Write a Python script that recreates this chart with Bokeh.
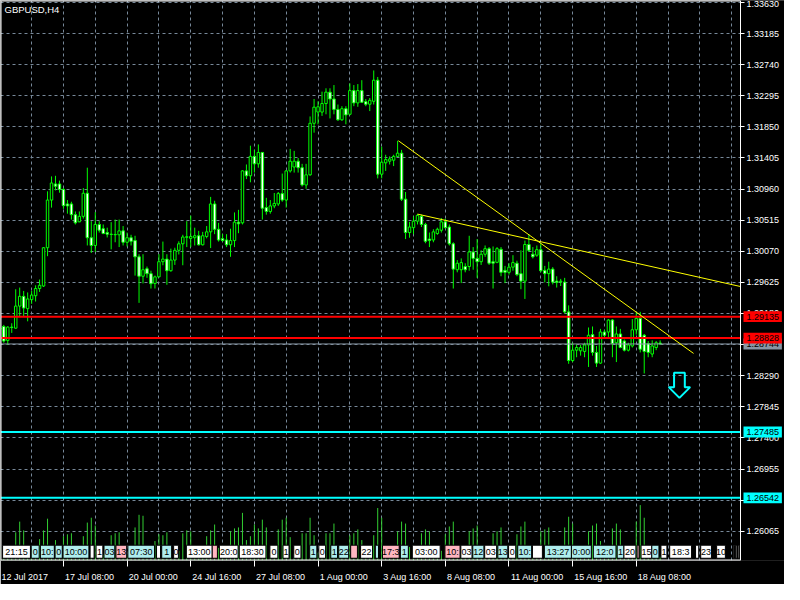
from bokeh.plotting import figure
from bokeh.models import (Range1d, FixedTicker, Label, ColumnDataSource,
                          PrintfTickFormatter, LinearAxis)
from bokeh.embed import file_html
from bokeh.resources import INLINE

# ---------------- data (GBPUSD, H4) ----------------
open_ = [1.28957,1.28994,1.28795,1.28985,1.28970,1.29286,1.29425,1.29249,1.29378,1.29434,
         1.29537,1.29573,1.30121,1.30803,1.31033,1.31033,1.30955,1.30747,1.30747,1.30594,
         1.30491,1.30570,1.30900,1.30264,1.30153,1.30454,1.30393,1.30338,1.30315,1.30306,
         1.30306,1.30362,1.30199,1.30264,1.30223,1.29991,1.29713,1.29820,1.29750,1.29610,
         1.29704,1.29921,1.29958,1.29792,1.29944,1.30084,1.30177,1.30270,1.30255,1.30264,
         1.30292,1.30163,1.30282,1.30348,1.30747,1.30385,1.30250,1.30232,1.30163,1.30223,
         1.30487,1.30477,1.31220,1.31150,1.31428,1.31321,1.31484,1.30695,1.30640,1.30719,
         1.30747,1.30895,1.30803,1.31220,1.31276,1.31359,1.31266,1.31019,1.31164,1.31901,
         1.32062,1.32062,1.32184,1.32347,1.32249,1.32100,1.31951,1.32110,1.32030,1.32369,
         1.32193,1.32369,1.32211,1.32174,1.32216,1.32518,1.31173,1.31335,1.31359,1.31373,
         1.31428,1.31474,1.30816,1.30338,1.30408,1.30501,1.30570,1.30454,1.30245,1.30232,
         1.30324,1.30371,1.30491,1.30417,1.30177,1.29806,1.29806,1.29852,1.29852,1.30060,
         1.29968,1.29921,1.30028,1.30107,1.29921,1.29912,1.30098,1.29797,1.29769,1.29843,
         1.29899,1.29750,1.29643,1.30167,1.30028,1.30014,1.30093,1.29797,1.29750,1.29815,
         1.29643,1.29634,1.29629,1.29203,1.28507,1.28655,1.28646,1.28637,1.28730,1.28878,
         1.28623,1.28470,1.28915,1.28915,1.29086,1.28762,1.28887,1.28786,1.28655,1.28716,
         1.28947,1.29110,1.28869,1.28749,1.28600,1.28693,1.28758]
high = [1.28998,1.29017,1.28998,1.29040,1.29527,1.29551,1.29503,1.29481,1.29503,1.29583,
        1.29666,1.30130,1.30928,1.31141,1.31150,1.31081,1.30974,1.30803,1.30779,1.30640,
        1.30640,1.30974,1.31266,1.30501,1.30630,1.30501,1.30454,1.30408,1.30487,1.30524,
        1.30524,1.30431,1.30338,1.30306,1.30292,1.30028,1.30028,1.29852,1.29792,1.29722,
        1.30028,1.30209,1.30028,1.30108,1.30121,1.30213,1.30306,1.30501,1.30580,1.30408,
        1.30362,1.30348,1.30431,1.30848,1.30793,1.30477,1.30315,1.30315,1.30393,1.30626,
        1.30663,1.31229,1.31312,1.31581,1.31521,1.31599,1.31490,1.30835,1.30803,1.30904,
        1.30918,1.31182,1.31229,1.31535,1.31507,1.31405,1.31321,1.31321,1.31999,1.32249,
        1.32215,1.32354,1.32402,1.32402,1.32448,1.32170,1.32146,1.32146,1.32472,1.32448,
        1.32462,1.32518,1.32249,1.32263,1.32657,1.32564,1.31568,1.31451,1.31428,1.31451,
        1.31651,1.31521,1.30918,1.30491,1.30570,1.30602,1.30594,1.30477,1.30338,1.30385,
        1.30408,1.30546,1.30537,1.30454,1.30199,1.29944,1.29968,1.29899,1.30292,1.30130,
        1.30245,1.30084,1.30153,1.30130,1.30139,1.30130,1.30130,1.29861,1.29899,1.30014,
        1.29935,1.30084,1.30223,1.30315,1.30130,1.30153,1.30185,1.29861,1.29921,1.29843,
        1.29713,1.29675,1.29690,1.29296,1.28762,1.28739,1.28730,1.28762,1.28980,1.28994,
        1.28716,1.28960,1.28947,1.29100,1.29100,1.28994,1.28960,1.28808,1.28762,1.29100,
        1.29203,1.29203,1.28887,1.28786,1.28795,1.28786,1.28795]
low = [1.28915,1.28762,1.28730,1.28902,1.28960,1.29133,1.29133,1.29068,1.29318,1.29351,
       1.29489,1.29559,1.30000,1.30695,1.30941,1.30908,1.30677,1.30608,1.30524,1.30454,
       1.30487,1.30538,1.30153,1.30046,1.30060,1.30338,1.30315,1.30268,1.30098,1.30199,
       1.30130,1.30153,1.30139,1.30153,1.29722,1.29332,1.29610,1.29690,1.29537,1.29537,
       1.29698,1.29870,1.29591,1.29778,1.29875,1.30024,1.29870,1.30130,1.30130,1.30153,
       1.30153,1.30153,1.30255,1.30116,1.30315,1.30209,1.30209,1.30130,1.29991,1.30130,
       1.30329,1.30454,1.31103,1.31057,1.31196,1.31266,1.30524,1.30594,1.30608,1.30686,
       1.30719,1.30779,1.30695,1.31196,1.31196,1.31196,1.30997,1.30964,1.31150,1.31767,
       1.31887,1.32007,1.32030,1.31971,1.32030,1.31937,1.31937,1.31887,1.32017,1.32146,
       1.32137,1.32193,1.32146,1.32076,1.32170,1.31113,1.31113,1.31220,1.31312,1.31289,
       1.31419,1.30789,1.30245,1.30264,1.30315,1.30454,1.30417,1.30185,1.30130,1.30199,
       1.30306,1.30338,1.30399,1.30153,1.29537,1.29769,1.29615,1.29769,1.29792,1.29806,
       1.29690,1.29875,1.29991,1.29875,1.29537,1.29899,1.29713,1.29615,1.29736,1.29792,
       1.29713,1.29527,1.29388,1.30060,1.29968,1.29991,1.29769,1.29624,1.29569,1.29596,
       1.29551,1.29573,1.29180,1.28460,1.28484,1.28554,1.28577,1.28554,1.28415,1.28577,
       1.28415,1.28460,1.28832,1.28832,1.28554,1.28485,1.28683,1.28637,1.28637,1.28693,
       1.28878,1.28623,1.28322,1.28554,1.28554,1.28655,1.28730]
close = [1.28970,1.28786,1.28985,1.28980,1.29286,1.29425,1.29258,1.29388,1.29444,1.29537,
         1.29583,1.30121,1.30803,1.31047,1.31001,1.30955,1.30723,1.30719,1.30594,1.30477,
         1.30570,1.30900,1.30264,1.30153,1.30454,1.30371,1.30324,1.30315,1.30310,1.30311,
         1.30362,1.30199,1.30264,1.30213,1.29991,1.29713,1.29806,1.29750,1.29606,1.29704,
         1.29921,1.29958,1.29792,1.29944,1.30084,1.30177,1.30274,1.30278,1.30282,1.30292,
         1.30163,1.30292,1.30348,1.30747,1.30385,1.30232,1.30223,1.30163,1.30223,1.30487,
         1.30463,1.31220,1.31150,1.31428,1.31321,1.31484,1.30686,1.30640,1.30719,1.30755,
         1.30895,1.30803,1.31220,1.31359,1.31359,1.31266,1.31019,1.31164,1.31901,1.32132,
         1.32137,1.32184,1.32347,1.32249,1.32100,1.31951,1.32110,1.32021,1.32369,1.32193,
         1.32369,1.32202,1.32174,1.32230,1.32518,1.31173,1.31345,1.31382,1.31391,1.31428,
         1.31474,1.30816,1.30338,1.30417,1.30501,1.30584,1.30454,1.30213,1.30223,1.30348,
         1.30385,1.30491,1.30408,1.30177,1.29815,1.29899,1.29908,1.29806,1.30060,1.29968,
         1.29921,1.30028,1.30107,1.29899,1.29899,1.30107,1.29769,1.29769,1.29843,1.29908,
         1.29736,1.29643,1.30167,1.30084,1.29991,1.30093,1.29792,1.29750,1.29815,1.29629,
         1.29624,1.29643,1.29203,1.28507,1.28655,1.28693,1.28693,1.28730,1.28869,1.28623,
         1.28470,1.28915,1.28869,1.29086,1.28749,1.28887,1.28693,1.28655,1.28730,1.28947,
         1.29110,1.28669,1.28637,1.28623,1.28716,1.28762,1.28744]
volume = [5600,4000,2400,3200,11600,16000, 12400,4800,2400,3600,8800,12400,
          17200,5600,8400,3200,10000,10800, 11200,4800,2800,10000,15600,17600,
          14400,4800,2400,3200,10400,11200, 11600,4800,2400,3600,13600,18800,
          18400,5200,2800,8000,10800,10400, 11600,4800,2800,4000,11200,12400,
          12000,4800,2400,3600,10000,12400, 14800,5200,2800,4000,12000,13200,
          13600,19600,8400,10000,14800,13200, 16800,13600,3200,4400,12800,16800,
          17600,9600,2800,4000,11200,11200, 17600,10400,3200,4400,11200,11200,
          15200,5600,2800,4000,10400,11200, 12800,8400,2800,4000,10400,21600,
          17600,5600,2800,4000,12000,16000, 15200,5600,2800,4000,11200,12800,
          12000,5200,2400,4000,10800,14000, 16000,5200,2800,4000,12000,13200,
          14400,5200,2400,3600,11200,12000, 13600,5200,2800,4000,10800,14000,
          16000,5600,2400,3600,12000,12800, 13600,5200,2800,4000,13600,18000,
          15200,5600,2800,4000,12000,14400, 15200,8000,2800,4000,13200,15200,
          12800,5200,2800,4000,16000,22800, 17600,5600,2800,3600,1600]

# axis ticks / labels
XTICK_BARS = [0, 16, 32, 48, 64, 80, 96, 112, 128, 144, 160]
XTICK_TEXT = ["12 Jul 2017", "17 Jul 08:00", "20 Jul 00:00", "24 Jul 16:00", "27 Jul 08:00",
              "1 Aug 00:00", "3 Aug 16:00", "8 Aug 08:00", "11 Aug 00:00", "15 Aug 16:00",
              "18 Aug 08:00"]
PRICE_TICKS = [1.26065, 1.26510, 1.26955, 1.27400, 1.27845, 1.28290, 1.28735, 1.29180,
               1.29625, 1.30070, 1.30515, 1.30960, 1.31405, 1.31850, 1.32295, 1.32740,
               1.33185, 1.33630]

# horizontal levels
RED_LEVELS = [1.29135, 1.28828]
CYAN_LEVELS = [1.27485, 1.26542]
BID = 1.28744

# trend lines: two anchor points (bar, price) each
TREND1 = [(100.2, 1.31651), (174.4, 1.28609)]
TREND2 = [(105.0, 1.30602), (139.4, 1.30163)]

# sell arrow tip (bar, price)
ARROW_TIP = (170.85, 1.27973)

# time-label strip along the bottom (bar from, bar to, text, colour)
STRIP_X0 = [0.7, 7.9, 10.2, 13.9, 15.9, 22.7, 24.2, 26.2, 29.2, 32.2, 39.4, 40.7, 43.7, 46.9,
            53.4, 55.2, 60.2, 67.9, 71.2, 73.9, 77.9, 80.2, 83.2, 85.2, 88.2, 90.7, 94.4, 96.2,
            100.7, 103.7, 111.9, 115.9, 118.9, 121.9, 125.2, 127.9, 130.2, 133.9, 136.9, 143.7,
            149.2, 155.2, 156.9, 160.2, 161.2, 163.9, 166.2, 168.4, 174.9, 176.2, 180.2, 184.4,
            185.0, 185.6]
STRIP_X1 = [7.7, 9.9, 13.7, 15.7, 22.4, 23.7, 25.9, 28.9, 31.9, 38.9, 40.4, 43.2, 44.9, 53.4,
            54.7, 59.9, 66.9, 69.9, 72.7, 75.7, 79.7, 81.9, 84.9, 87.7, 89.9, 93.7, 95.2, 100.4,
            102.7, 110.7, 115.7, 118.7, 121.7, 124.9, 127.7, 129.7, 133.7, 136.4, 143.7, 148.7,
            154.9, 156.9, 159.9, 160.7, 163.9, 165.7, 167.7, 173.9, 175.7, 178.9, 182.4, 184.7,
            185.3, 185.9]
STRIP_TEXT = ["21:15", "0", "10:", "0", "10:00", "", "1", "03", "13", "07:30", "", "1", "0",
              "13:00", "", "20:0", "18:30", "0", "1", "0", "1", "0", "1", "22", "", "22", "",
              "17:3", "1", "03:00", "10:", "03", "12", "03", "13", "0", "10:", "", "13:27",
              "0:00", "12:0", "1", "20", "", "15", "0", "1", "18:3", "", "23", "10", "", "", ""]
STRIP_KIND = ["W", "C", "C", "C", "C", "W", "W", "C", "P", "C", "W", "C", "W", "W", "P", "W",
              "W", "W", "W", "W", "C", "W", "C", "C", "P", "W", "C", "P", "C", "W", "P", "W",
              "C", "W", "C", "W", "C", "W", "C", "C", "C", "C", "W", "P", "W", "C", "W", "W",
              "W", "W", "W", "W", "W", "W"]
STRIP_PRICE = (1.25678, 1.25865)

# ---------------- figure ----------------
X0, XA = 0.175, 186.2          # chart area (bars); XA = price-axis position
Y0, Y1 = 1.25646, 1.33658
W, H = 784, 584
CHART_W = 740                  # pixels of the chart area, rest is the price scale
BOTTOM_H = 18
ppb = CHART_W / (XA - X0)
X_END = X0 + W / ppb

p = figure(width=W, height=H, output_backend="svg", toolbar_location=None,
           x_range=Range1d(X0, X_END), y_range=Range1d(Y0, Y1),
           x_axis_location="below", y_axis_location=None,
           background_fill_color="black", border_fill_color="black",
           min_border_left=0, min_border_top=0, min_border_right=0,
           min_border_bottom=BOTTOM_H)
p.outline_line_color = None

FONT = "Liberation Sans"
FS = 9
GRID = "#778899"

# grids
p.xgrid.ticker = FixedTicker(ticks=list(range(8, 187, 8)))
p.ygrid.ticker = FixedTicker(ticks=PRICE_TICKS)
for g in (p.xgrid, p.ygrid):
    g.grid_line_color = GRID
    g.grid_line_dash = "3 3"
    g.grid_line_width = 1

# bottom time axis: labels left-aligned at the tick (MT4 style)
CW = {c: 0.556 for c in "0123456789"}
CW.update({" ": 0.278, ":": 0.278, "J": 0.5, "u": 0.556, "l": 0.222, "A": 0.667, "g": 0.556})
centers = []
for b, t in zip(XTICK_BARS, XTICK_TEXT):
    wpx = sum(CW.get(ch, 0.556) for ch in t) * FS
    centers.append(round((b + (wpx / 2 + 1.5) / ppb) * 16) / 16)
xa = p.xaxis[0]
xa.ticker = FixedTicker(ticks=centers, minor_ticks=XTICK_BARS)
xa.major_label_overrides = {c: t for c, t in zip(centers, XTICK_TEXT)}
xa.axis_line_color = None
xa.major_tick_line_color = None
xa.major_tick_out = 0
xa.major_tick_in = 0
xa.minor_tick_line_color = "white"
xa.minor_tick_out = 6
xa.minor_tick_in = 0
xa.major_label_text_color = "white"
xa.major_label_text_font = FONT
xa.major_label_text_font_size = f"{FS}px"
xa.major_label_standoff = 5

# ---------------- volumes ----------------
p.extra_y_ranges = {"vol": Range1d(0, 230400)}
idx = list(range(len(close)))
vsrc = ColumnDataSource(dict(x=idx, v=volume, z=[0] * len(idx)))
p.segment(x0="x", y0="z", x1="x", y1="v", source=vsrc, y_range_name="vol",
          line_color="#32cd32", line_width=1)

# ---------------- time-label strip ----------------
SCOL = {"W": "#ffffff", "C": "#afeeee", "P": "#ffb6c1"}
ssrc = ColumnDataSource(dict(l=STRIP_X0, r=STRIP_X1, t=STRIP_TEXT,
                             c=[SCOL[k] for k in STRIP_KIND],
                             m=[(a + b) / 2 for a, b in zip(STRIP_X0, STRIP_X1)],
                             b=[STRIP_PRICE[0]] * len(STRIP_X0),
                             tp=[STRIP_PRICE[1]] * len(STRIP_X0),
                             y=[(STRIP_PRICE[0] + STRIP_PRICE[1]) / 2] * len(STRIP_X0)))
p.quad(left="l", right="r", bottom="b", top="tp", source=ssrc, fill_color="c",
       line_color="black", line_width=1)
p.text(x="m", y="y", text="t", source=ssrc, text_align="center", text_baseline="middle",
       text_color="black", text_font_size=f"{FS}px", text_font={"value": FONT})

# ---------------- candles ----------------
top = [max(o, c) for o, c in zip(open_, close)]
bot = [min(o, c) for o, c in zip(open_, close)]
fill = ["white" if c < o else "black" for o, c in zip(open_, close)]
csrc = ColumnDataSource(dict(x=idx, h=high, l=low, t=top, b=bot, f=fill))
p.segment(x0="x", y0="l", x1="x", y1="h", source=csrc, line_color="#00ff00", line_width=1)
p.vbar(x="x", width=0.62, top="t", bottom="b", source=csrc, fill_color="f",
       line_color="#00ff00", line_width=1)

# ---------------- levels ----------------
p.segment(x0=[X0], y0=[BID], x1=[XA], y1=[BID], line_color="#8896a4", line_width=1)
p.segment(x0=[X0] * 2, y0=RED_LEVELS, x1=[XA] * 2, y1=RED_LEVELS,
          line_color="#ff0000", line_width=2)
p.segment(x0=[X0] * 2, y0=CYAN_LEVELS, x1=[XA] * 2, y1=CYAN_LEVELS,
          line_color="#00ffff", line_width=2)

# ---------------- trend lines ----------------
(ax, ay), (bx, by) = TREND1
p.line([ax, bx], [ay, by], line_color="yellow", line_width=1)
(ax, ay), (bx, by) = TREND2
slope = (by - ay) / (bx - ax)
p.line([ax, XA], [ay, ay + slope * (XA - ax)], line_color="yellow", line_width=1)

# ---------------- sell arrow ----------------
tx, ty = ARROW_TIP
sw, hw = 1.35, 2.7          # half widths (bars)
hh, th = 0.00153, 0.00358   # head height, total height (price)
p.patch([tx - sw, tx + sw, tx + sw, tx + hw, tx, tx - hw, tx - sw],
        [ty + th, ty + th, ty + hh, ty + hh, ty, ty + hh, ty + hh],
        fill_color=None, line_color="#00ffff", line_width=2)

# ---------------- chart border (left / top / bottom) ----------------
p.line([X0, X0, XA], [Y0, Y1, Y1], line_color="white", line_width=2)
p.line([X0, XA], [Y0, Y0], line_color="white", line_width=2)

# mask grid lines under the price scale
p.quad(left=[XA], right=[X_END + 2], bottom=[Y0 - 0.01], top=[Y1 + 0.01],
       fill_color="black", line_color=None)

# ---------------- right price axis at the chart edge ----------------
ya = LinearAxis(fixed_location=XA, ticker=FixedTicker(ticks=PRICE_TICKS),
                formatter=PrintfTickFormatter(format="%.5f"))
ya.axis_line_color = "white"
ya.major_tick_line_color = "white"
ya.major_tick_out = 4
ya.major_tick_in = 0
ya.minor_tick_line_color = None
ya.major_label_text_color = "white"
ya.major_label_text_font = FONT
ya.major_label_text_font_size = f"{FS}px"
ya.major_label_standoff = 2
p.add_layout(ya, "right")

# ---------------- price tags on the scale (bid first, then the levels on top) ----------------
TAG_HALF = 0.00078
tag_p = [BID] + RED_LEVELS + CYAN_LEVELS
tag_c = ["#8896a4", "#ff0000", "#ff0000", "#00ffff", "#00ffff"]
for v, c in zip(tag_p, tag_c):
    r1 = p.quad(left=[XA + 0.75], right=[XA + 10.4], bottom=[v - TAG_HALF], top=[v + TAG_HALF],
                fill_color=c, line_color=None)
    r2 = p.text(x=[XA + 1.5], y=[v], text=[f"{v:.5f}"], text_align="left",
                text_baseline="middle", text_color="black", text_font_size=f"{FS}px",
                text_font={"value": FONT})
    r1.level = "overlay"
    r2.level = "overlay"

# title
p.add_layout(Label(x=X0, y=Y1, text="GBPUSD,H4", x_offset=4, y_offset=-3,
                   text_baseline="top", text_color="white", text_font=FONT,
                   text_font_size="9.5px"))

open("out.html", "w").write(file_html(p, INLINE))
